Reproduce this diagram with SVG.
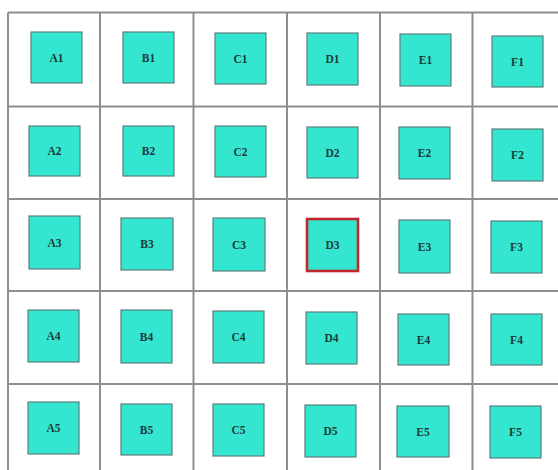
<svg xmlns="http://www.w3.org/2000/svg" width="558" height="470" viewBox="0 0 558 470">
<style>
.g{stroke:#8e8e8e;stroke-width:2;fill:none}
.b{fill:#34e6cf;stroke:#5b7f7c;stroke-width:1.2}
.sel{fill:#34e6cf;stroke:#c0282d;stroke-width:2.6}
.t{font-family:"Liberation Serif",serif;font-weight:bold;font-size:11.5px;fill:#1c3b3a;text-anchor:middle}
</style>
<rect width="558" height="470" fill="#ffffff"/>
<g id="grid">
<line class="g" x1="8" y1="12.5" x2="558" y2="12.5"/>
<line class="g" x1="8" y1="106.5" x2="558" y2="106.5"/>
<line class="g" x1="8" y1="199" x2="558" y2="199"/>
<line class="g" x1="8" y1="291" x2="558" y2="291"/>
<line class="g" x1="8" y1="384" x2="558" y2="384"/>
<line class="g" x1="8" y1="12.5" x2="8" y2="470"/>
<line class="g" x1="100" y1="12.5" x2="100" y2="470"/>
<line class="g" x1="193.5" y1="12.5" x2="193.5" y2="470"/>
<line class="g" x1="287" y1="12.5" x2="287" y2="470"/>
<line class="g" x1="380" y1="12.5" x2="380" y2="470"/>
<line class="g" x1="472.5" y1="12.5" x2="472.5" y2="470"/>
</g>
<g id="connectors"/>
<g id="A1"><rect class="b" x="31" y="32" width="51" height="51"/><text class="t" x="56.5" y="61.5">A1</text></g>
<g id="B1"><rect class="b" x="123" y="32" width="51" height="51"/><text class="t" x="148.5" y="61.5">B1</text></g>
<g id="C1"><rect class="b" x="215" y="33" width="51" height="51"/><text class="t" x="240.5" y="62.5">C1</text></g>
<g id="D1"><rect class="b" x="307" y="33" width="51" height="52"/><text class="t" x="332.5" y="63">D1</text></g>
<g id="E1"><rect class="b" x="400" y="34" width="51" height="52"/><text class="t" x="425.5" y="64">E1</text></g>
<g id="F1"><rect class="b" x="492" y="36" width="51" height="51"/><text class="t" x="517.5" y="65.5">F1</text></g>
<g id="A2"><rect class="b" x="29" y="126" width="51" height="50"/><text class="t" x="54.5" y="155">A2</text></g>
<g id="B2"><rect class="b" x="123" y="126" width="51" height="50"/><text class="t" x="148.5" y="155">B2</text></g>
<g id="C2"><rect class="b" x="215" y="126" width="51" height="51"/><text class="t" x="240.5" y="155.5">C2</text></g>
<g id="D2"><rect class="b" x="307" y="127" width="51" height="51"/><text class="t" x="332.5" y="156.5">D2</text></g>
<g id="E2"><rect class="b" x="399" y="127" width="51" height="52"/><text class="t" x="424.5" y="157">E2</text></g>
<g id="F2"><rect class="b" x="492" y="129" width="51" height="52"/><text class="t" x="517.5" y="159">F2</text></g>
<g id="A3"><rect class="b" x="29" y="216" width="51" height="53"/><text class="t" x="54.5" y="246.5">A3</text></g>
<g id="B3"><rect class="b" x="121" y="218" width="52" height="52"/><text class="t" x="147" y="248">B3</text></g>
<g id="C3"><rect class="b" x="213" y="218" width="52" height="53"/><text class="t" x="239" y="248.5">C3</text></g>
<g id="D3"><rect class="sel" x="307" y="219" width="51" height="52"/><text class="t" x="332.5" y="249">D3</text></g>
<g id="E3"><rect class="b" x="399" y="220" width="51" height="53"/><text class="t" x="424.5" y="250.5">E3</text></g>
<g id="F3"><rect class="b" x="491" y="221" width="51" height="52"/><text class="t" x="516.5" y="251">F3</text></g>
<g id="A4"><rect class="b" x="28" y="310" width="51" height="52"/><text class="t" x="53.5" y="340">A4</text></g>
<g id="B4"><rect class="b" x="121" y="310" width="51" height="53"/><text class="t" x="146.5" y="340.5">B4</text></g>
<g id="C4"><rect class="b" x="213" y="311" width="51" height="52"/><text class="t" x="238.5" y="341">C4</text></g>
<g id="D4"><rect class="b" x="306" y="312" width="51" height="52"/><text class="t" x="331.5" y="342">D4</text></g>
<g id="E4"><rect class="b" x="398" y="314" width="51" height="51"/><text class="t" x="423.5" y="343.5">E4</text></g>
<g id="F4"><rect class="b" x="491" y="314" width="51" height="51"/><text class="t" x="516.5" y="343.5">F4</text></g>
<g id="A5"><rect class="b" x="28" y="402" width="51" height="52"/><text class="t" x="53.5" y="432">A5</text></g>
<g id="B5"><rect class="b" x="121" y="404" width="51" height="51"/><text class="t" x="146.5" y="433.5">B5</text></g>
<g id="C5"><rect class="b" x="213" y="404" width="51" height="52"/><text class="t" x="238.5" y="434">C5</text></g>
<g id="D5"><rect class="b" x="305" y="405" width="51" height="52"/><text class="t" x="330.5" y="435">D5</text></g>
<g id="E5"><rect class="b" x="397" y="406" width="52" height="51"/><text class="t" x="423" y="435.5">E5</text></g>
<g id="F5"><rect class="b" x="490" y="406" width="51" height="52"/><text class="t" x="515.5" y="436">F5</text></g>
</svg>
